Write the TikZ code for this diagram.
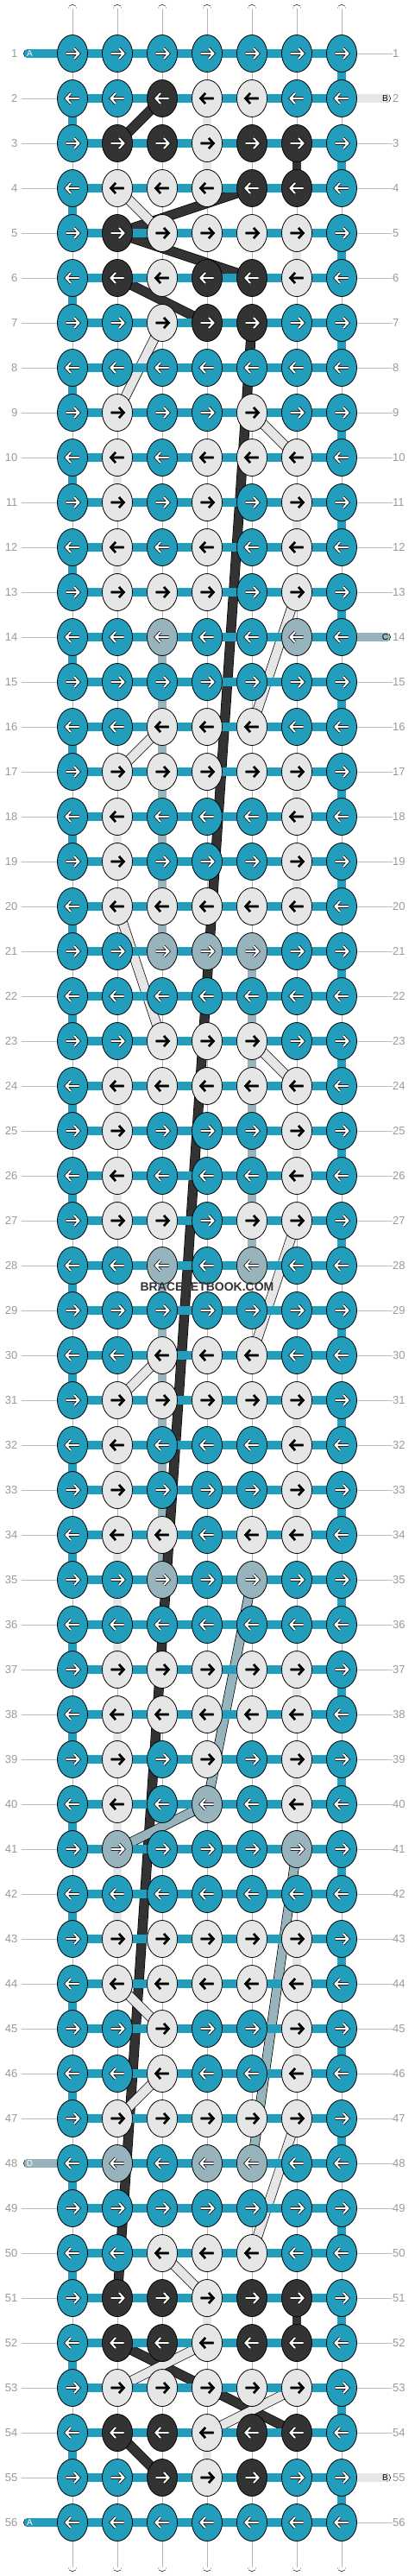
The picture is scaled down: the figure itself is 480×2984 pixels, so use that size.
\documentclass[tikz,border=0pt]{standalone}
\usepackage{fontspec}
\setmainfont{Liberation Sans}
\usetikzlibrary{shapes.geometric}
\definecolor{cT}{HTML}{229EBC}
\definecolor{cK}{HTML}{333333}
\definecolor{cL}{HTML}{E6E6E6}
\definecolor{cG}{HTML}{97B4BC}
\definecolor{numgray}{HTML}{9A9A9A}
\definecolor{linegray}{HTML}{BDBDBD}
\definecolor{midgray}{HTML}{B5B5B5}
\colorlet{arT}{white}\colorlet{arK}{white}\colorlet{arG}{white}\colorlet{arL}{black}
\def\arwT{3.6}\def\arwK{3.6}\def\arwG{3.6}\def\arwL{2.6}
\pgfdeclarelayer{bgw}
\pgfdeclarelayer{segs}
\pgfdeclarelayer{bands}
\pgfdeclarelayer{bars}
\pgfsetlayers{bgw,segs,bands,bars,main}
\tikzset{
  knot/.style={ellipse, draw=black, line width=0.8pt, minimum width=35pt, minimum height=43pt, inner sep=0pt},
  strand/.style={draw=black, line width=0.7pt, double distance=9.4pt},
  vseg/.style={strand, double=white},
  midl/.style={draw=midgray, line width=0.7pt},
  band/.style={draw=black, line width=0.7pt, double distance=10pt},
  numL/.style={text=numgray, font=\fontsize{13}{13}\selectfont, anchor=east, inner xsep=4.5pt},
  numR/.style={text=numgray, font=\fontsize{13}{13}\selectfont, anchor=west, inner xsep=0.5pt},
  rowline/.style={draw=linegray, line width=0.9pt},
  endlab/.style={font=\fontsize{10}{10}\selectfont, inner sep=0pt}
}
\begin{document}
\begin{tikzpicture}[x=1pt,y=1pt]
\begin{pgfonlayer}{bgw}
\fill[white] (0,0) rectangle (480,-2984);
\end{pgfonlayer}
\useasboundingbox (0,0) rectangle (480,-2984);
% knots
\foreach \r/\ka/\kb/\kc/\kd/\ke/\kf/\kg in {
1/T/T/T/T/T/T/T, 2/T/T/K/L/L/T/T, 3/T/K/K/L/K/K/T, 4/T/L/L/L/K/K/T,
5/T/K/L/L/L/L/T, 6/T/K/L/K/K/L/T, 7/T/T/L/K/K/T/T, 8/T/T/T/T/T/T/T,
9/T/L/T/T/L/T/T, 10/T/L/T/L/L/L/T, 11/T/L/T/L/T/L/T, 12/T/L/T/L/T/L/T,
13/T/L/L/L/T/L/T, 14/T/T/G/T/T/G/T, 15/T/T/T/T/T/T/T, 16/T/T/L/L/L/T/T,
17/T/L/L/L/L/L/T, 18/T/L/T/T/T/L/T, 19/T/L/T/T/T/L/T, 20/T/L/L/L/L/L/T,
21/T/T/G/G/G/T/T, 22/T/T/T/T/T/T/T, 23/T/T/L/L/L/T/T, 24/T/L/L/L/L/L/T,
25/T/L/T/T/T/L/T, 26/T/L/T/T/T/L/T, 27/T/L/L/T/L/L/T, 28/T/T/G/T/G/T/T,
29/T/T/T/T/T/T/T, 30/T/T/L/L/L/T/T, 31/T/L/L/L/L/L/T, 32/T/L/T/T/T/L/T,
33/T/L/T/T/T/L/T, 34/T/L/L/T/L/L/T, 35/T/T/G/T/G/T/T, 36/T/T/T/T/T/T/T,
37/T/L/L/L/L/L/T, 38/T/L/L/L/L/L/T, 39/T/L/T/L/T/L/T, 40/T/L/T/G/T/L/T,
41/T/G/T/T/T/G/T, 42/T/T/T/T/T/T/T, 43/T/L/L/L/L/L/T, 44/T/L/L/L/L/L/T,
45/T/T/L/T/T/L/T, 46/T/T/L/T/T/L/T, 47/T/L/L/L/L/L/T, 48/T/G/T/G/G/T/T,
49/T/T/T/T/T/T/T, 50/T/T/L/L/L/T/T, 51/T/K/K/L/K/K/T, 52/T/K/K/L/K/K/T,
53/T/L/L/L/L/L/T, 54/T/K/K/L/K/K/T, 55/T/T/K/L/K/T/T, 56/T/T/T/T/T/T/T}{
  \pgfmathsetmacro\Y{-(10+52*\r)}
  \pgfmathsetmacro\dd{1-2*mod(\r+1,2)}
  \foreach \cc/\clr in {1/\ka,2/\kb,3/\kc,4/\kd,5/\ke,6/\kf,7/\kg}{
    \pgfmathsetmacro\X{32+52*\cc}
    \node[knot, fill=c\clr] (k\r-\cc) at (\X,\Y) {};
    \draw[draw=ar\clr, line width=2.1pt, preaction={draw=black, line width=\csname arw\clr\endcsname pt}]
      ({\X-7.5*\dd},\Y) -- ({\X+7.5*\dd},\Y)
      ({\X+2*\dd},\Y+6) -- ({\X+7.5*\dd},\Y) -- ({\X+2*\dd},\Y-6);
  }
  \node[numL] (ll\r) at (25,\Y) {\r};
  \node[numR] (lr\r) at (454.5,\Y) {\r};
  \ifnum\r=1\relax\else\ifnum\r=48\relax\else\ifnum\r=56\relax\else
    \draw[rowline] (ll\r.east) -- (k\r-1.west);
  \fi\fi\fi
  \ifnum\r=2\relax\else\ifnum\r=14\relax\else\ifnum\r=55\relax\else
    \draw[rowline] (k\r-7.east) -- (lr\r.west);
  \fi\fi\fi
}
% vertical segments
\begin{pgfonlayer}{segs}
\foreach \r in {1,...,55}{
  \pgfmathtruncatemacro\rn{\r+1}
  \foreach \cc in {1,...,7}{
    \draw[vseg] (k\r-\cc.center) -- (k\rn-\cc.center);
    \draw[midl] (k\r-\cc.center) -- (k\rn-\cc.center);
  }
  \ifodd\r\relax
    \draw[strand, double=cT] (k\r-7.center) -- (k\rn-7.center);
  \else
    \draw[strand, double=cT] (k\r-1.center) -- (k\rn-1.center);
  \fi
}
\foreach \r/\cc/\clr in {2/4/L,3/4/L,5/6/L,6/3/L,10/2/L,11/6/L,12/2/L,17/6/L,18/2/L,19/6/L,
  24/2/L,25/6/L,26/2/L,31/6/L,32/2/L,33/6/L,34/2/L,35/2/L,36/2/L,37/6/L,38/2/L,39/6/L,
  40/2/L,41/2/L,42/2/L,43/6/L,45/6/L,51/4/L,54/4/L,3/6/K,51/6/K,
  14/3/G,15/3/G,16/3/G,17/3/G,18/3/G,19/3/G,20/3/G,21/5/G,22/5/G,23/5/G,24/5/G,25/5/G,
  26/5/G,27/5/G,28/3/G,29/3/G,30/3/G,31/3/G,32/3/G,33/3/G,34/3/G}{
  \pgfmathtruncatemacro\rn{\r+1}
  \draw[strand, double=c\clr] (k\r-\cc.center) -- (k\rn-\cc.center);
}
\foreach \cc in {1,...,7}{
  \pgfmathsetmacro\X{32+52*\cc}
  \coordinate (t\cc) at (\X,-10.4);
  \coordinate (b\cc) at (\X,-2973.6);
  \draw[vseg, line cap=round] (t\cc) -- (k1-\cc.center);
  \draw[midl] (t\cc) -- (k1-\cc.center);
  \draw[vseg, line cap=round] (b\cc) -- (k56-\cc.center);
  \draw[midl] (b\cc) -- (k56-\cc.center);
}
\end{pgfonlayer}
% floating bands
\begin{pgfonlayer}{bands}
\foreach \ra/\ca/\rb/\cb in {2/3/3/2, 4/5/5/2, 5/2/6/5, 6/2/7/4, 7/5/51/2, 52/2/54/6, 54/2/55/3}{
  \draw[band, double=cK] (k\ra-\ca.center) -- (k\rb-\cb.center);
}
\foreach \ra/\ca/\rb/\cb in {4/2/5/3, 7/3/9/2, 9/5/10/6, 13/6/16/5, 16/3/17/2, 20/2/23/3,
  23/5/24/6, 27/6/30/5, 30/3/31/2, 44/2/45/3, 46/3/47/2, 47/6/50/5, 50/3/51/4, 52/4/53/2, 53/6/54/4}{
  \draw[band, double=cL] (k\ra-\ca.center) -- (k\rb-\cb.center);
}
\foreach \ra/\ca/\rb/\cb in {35/5/40/4, 40/4/41/2, 41/6/48/5}{
  \draw[band, double=cG] (k\ra-\ca.center) -- (k\rb-\cb.center);
}
\end{pgfonlayer}
% horizontal bars and string ends
\begin{pgfonlayer}{bars}
\foreach \r in {1,...,56}{
  \foreach \cc in {1,...,6}{
    \pgfmathtruncatemacro\cn{\cc+1}
    \draw[strand, double=cT] (k\r-\cc.center) -- (k\r-\cn.center);
  }
}
\coordinate (eL1) at (32.4,-62);
\coordinate (eL48) at (32.4,-2506);
\coordinate (eL56) at (32.4,-2922);
\coordinate (eR2) at (447.6,-114);
\coordinate (eR14) at (447.6,-738);
\coordinate (eR55) at (447.6,-2870);
\draw[strand, double=cT, line cap=round] (eL1) -- (k1-1.center);
\draw[strand, double=cG, line cap=round] (eL48) -- (k48-1.center);
\draw[strand, double=cT, line cap=round] (eL56) -- (k56-1.center);
\draw[strand, double=cL, line cap=round] (eR2) -- (k2-7.center);
\draw[strand, double=cG, line cap=round] (eR14) -- (k14-7.center);
\draw[strand, double=cL, line cap=round] (eR55) -- (k55-7.center);
\end{pgfonlayer}
\node[endlab, text=white] (tA1) at (34.5,-62.5) {A};
\node[endlab, text=white] (tD48) at (34.5,-2506.5) {D};
\node[endlab, text=white] (tA56) at (34.5,-2922.5) {A};
\node[endlab, text=black] (tB2) at (446.5,-114.5) {B};
\node[endlab, text=black] (tC14) at (446.5,-738.5) {C};
\node[endlab, text=black] (tB55) at (446.5,-2870.5) {B};
\node[font=\bfseries\fontsize{14}{14}\selectfont, text=cK] (wm) at (240,-1491) {BRACELETBOOK.COM};
\end{tikzpicture}
\end{document}
